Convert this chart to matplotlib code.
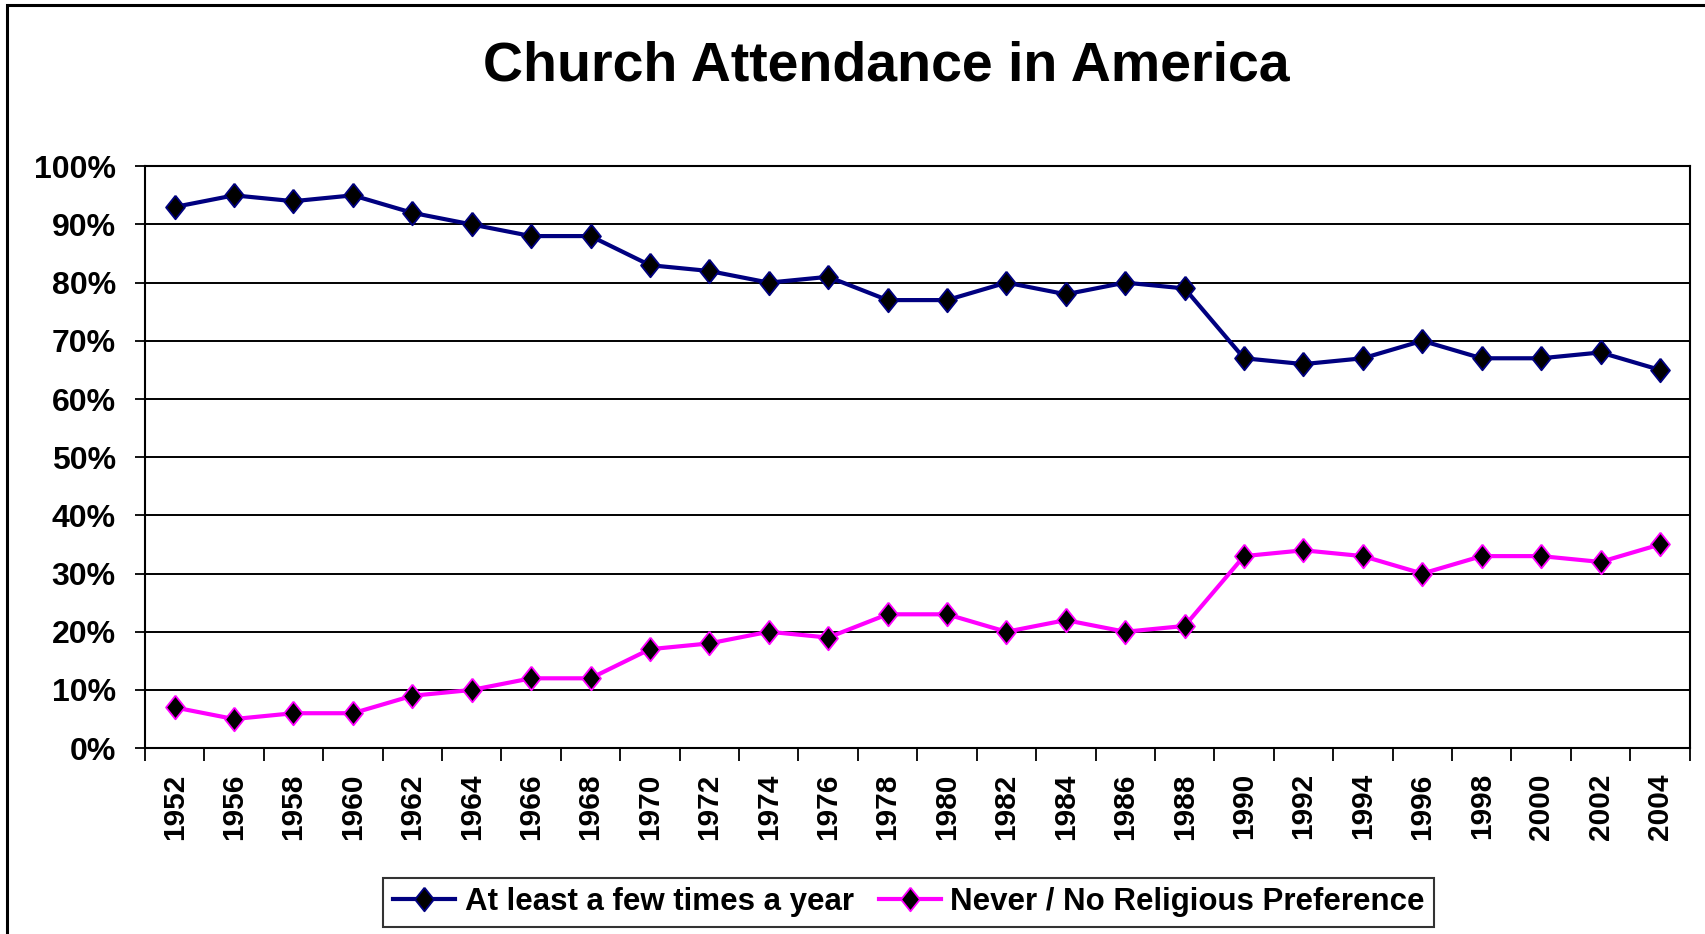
import matplotlib
matplotlib.use("Agg")
import matplotlib.pyplot as plt
from matplotlib.patches import Rectangle
from matplotlib.ticker import FixedLocator, FuncFormatter

# data
years = ["1952", "1956", "1958", "1960", "1962", "1964", "1966", "1968", "1970",
         "1972", "1974", "1976", "1978", "1980", "1982", "1984", "1986", "1988",
         "1990", "1992", "1994", "1996", "1998", "2000", "2002", "2004"]
attend = [93, 95, 94, 95, 92, 90, 88, 88, 83, 82, 80, 81, 77, 77, 80, 78, 80, 79,
          67, 66, 67, 70, 67, 67, 68, 65]
never = [7, 5, 6, 6, 9, 10, 12, 12, 17, 18, 20, 19, 23, 23, 20, 22, 20, 21,
         33, 34, 33, 30, 33, 33, 32, 35]
series_names = ["At least a few times a year", "Never / No Religious Preference"]
series_colors = ["#000080", "#FF00FF"]

plt.rcParams["font.family"] = ["Liberation Sans", "DejaVu Sans"]
plt.rcParams["font.weight"] = "bold"

fig = plt.figure(figsize=(17.05, 9.34), dpi=100)
ax = fig.add_axes([0.085, 0.199, 0.906, 0.623])

# thin diamond marker
diamond = [(0, 1), (0.8, 0), (0, -1), (-0.8, 0), (0, 1)]

x = range(len(years))
for vals, name, col in zip([attend, never], series_names, series_colors):
    ax.plot(x, vals, color=col, lw=3.0, marker=diamond, markersize=17,
            markerfacecolor="black", markeredgecolor=col, markeredgewidth=1.3,
            label=name, zorder=3)

ax.set_xlim(-0.5, len(years) - 0.5)
ax.set_ylim(0, 100)

ax.set_xticks(list(x))
ax.set_xticklabels(years, rotation=90, fontsize=21.5, fontweight="bold")
ax.xaxis.set_minor_locator(FixedLocator([i - 0.5 for i in range(len(years) + 1)]))
ax.tick_params(axis="x", which="major", length=0, pad=18)
ax.tick_params(axis="x", which="minor", length=9, width=1.3, direction="out")

ax.set_yticks(range(0, 101, 10))
ax.yaxis.set_major_formatter(FuncFormatter(lambda v, p: f"{int(v)}%"))
ax.tick_params(axis="y", length=7, width=1.3, direction="out", pad=14, labelsize=23)
for lab in ax.get_yticklabels():
    lab.set_fontweight("bold")

ax.grid(axis="y", color="black", lw=1.4)
ax.set_axisbelow(True)
for s in ax.spines.values():
    s.set_color("black")
    s.set_linewidth(1.5)

fig.text(0.52, 0.929, "Church Attendance in America", ha="center", va="center",
         fontsize=40, fontweight="bold")

leg = fig.legend(loc="center", bbox_to_anchor=(0.533, 0.034), ncol=2,
                 fontsize=22.5, frameon=True, fancybox=False, edgecolor="black",
                 handlelength=2.0, handletextpad=0.3, columnspacing=0.8,
                 borderpad=0.3)
leg.get_frame().set_linewidth(1.5)
for t in leg.get_texts():
    t.set_fontweight("bold")

# outer chart border (right and bottom run off the image)
fig.patches.append(Rectangle((7 / 1705, -0.2), 1.5, 1.2 - 5 / 934,
                             transform=fig.transFigure, fill=False,
                             edgecolor="black", lw=2.2))

fig.savefig("out.png", dpi=100)
